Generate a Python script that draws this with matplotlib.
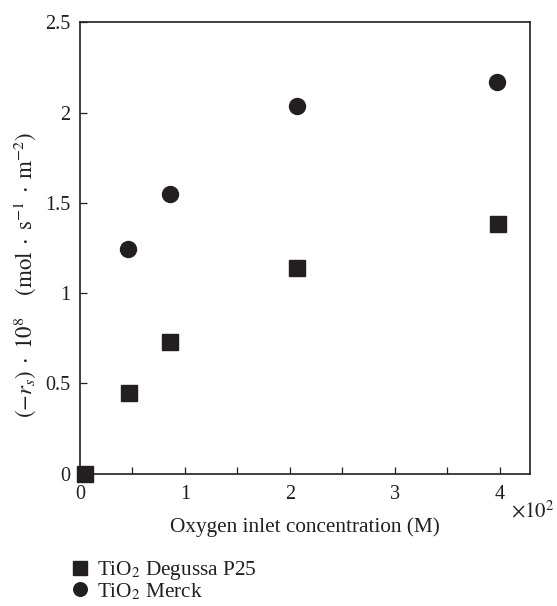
import matplotlib
matplotlib.use("Agg")
import matplotlib.pyplot as plt
from matplotlib.ticker import MultipleLocator

plt.rcParams['font.family'] = ['Liberation Serif', 'DejaVu Serif']
plt.rcParams['mathtext.fontset'] = 'stix'

ink = '#231f20'

# oxygen inlet concentration (x10^2 M) and rate (x10^8 mol s-1 m-2)
x_p25 = [0.05, 0.47, 0.86, 2.07, 3.98]
y_p25 = [0.0, 0.446, 0.731, 1.139, 1.385]
x_merck = [0.46, 0.86, 2.07, 3.97]
y_merck = [1.243, 1.549, 2.039, 2.17]

fig = plt.figure(figsize=(5.57, 6.06), dpi=100)
ax = fig.add_axes([0.1436, 0.2186, 0.8079, 0.7443])

ax.plot(x_p25, y_p25, 's', color=ink, markersize=11.5, label='TiO$_2$ Degussa P25', clip_on=False)
ax.plot(x_merck, y_merck, 'o', color=ink, markersize=11.5, label='TiO$_2$ Merck', clip_on=False)

ax.set_xlim(0, 4.286)
ax.set_ylim(0, 2.5)
ax.xaxis.set_minor_locator(MultipleLocator(0.5))
ax.set_yticks([0, 0.5, 1, 1.5, 2, 2.5])
ax.set_yticklabels(['0', '0.5', '1', '1.5', '2', '2.5'])
ax.set_xticks([0, 1, 2, 3, 4])
ax.set_xticklabels(['0', '1', '2', '3', '4'])

ax.tick_params(which='both', direction='in', length=5, width=0.9, color=ink,
               labelsize=14.5, labelcolor=ink, top=False, right=False)
ax.tick_params(axis='x', which='both', pad=8)
ax.tick_params(axis='y', pad=7)
for s in ax.spines.values():
    s.set_color(ink)
    s.set_linewidth(1.2)

ax.set_xlabel('Oxygen inlet concentration (M)', fontsize=15.3, color=ink, labelpad=10)
ax.set_ylabel(r'$(-r_s)\;\cdot\;10^8\quad\;(\mathrm{mol}\;\cdot\;\mathrm{s}^{-1}\;\cdot\;\mathrm{m}^{-2})$',
              fontsize=16.5, color=ink)
ax.yaxis.set_label_coords(-0.094, 0.44)
ax.text(0.957, -0.085, r'$\times 10^2$', transform=ax.transAxes, fontsize=15,
        color=ink, ha='left', va='center')

fig.legend(loc='upper left', bbox_to_anchor=(0.104, 0.095), frameon=False,
           fontsize=15.3, handletextpad=0.25, labelspacing=-0.04, markerscale=0.85,
           borderpad=0, handlelength=1.1, labelcolor=ink)

fig.savefig('out.png', dpi=100)
